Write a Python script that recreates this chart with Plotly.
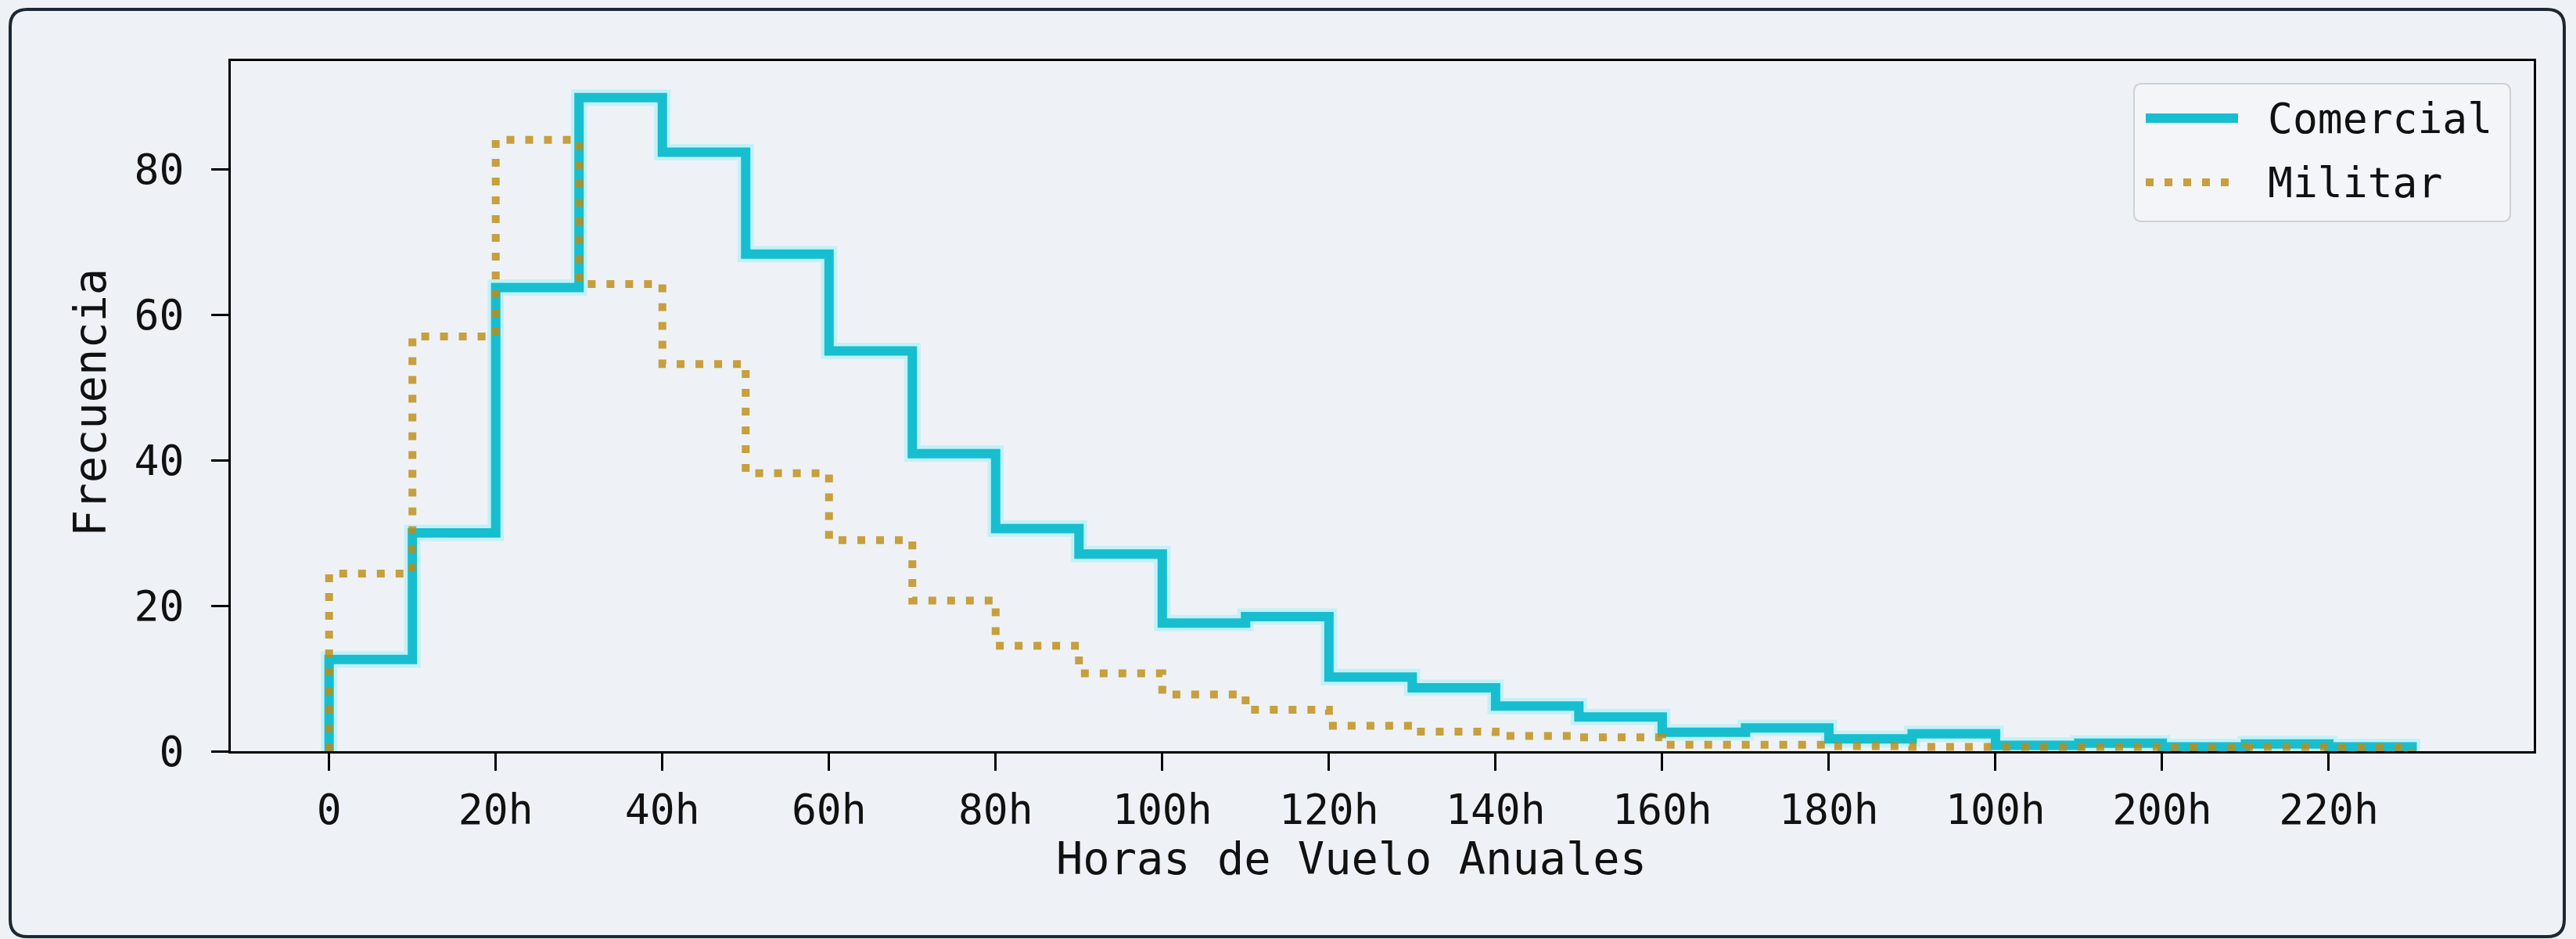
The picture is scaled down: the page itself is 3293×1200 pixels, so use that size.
import plotly.graph_objects as go

# ---------------- data ----------------
bin_edges = list(range(0, 260, 10))  # 0 .. 250
comercial = [12.6, 30.0, 63.7, 89.8, 82.3, 68.3, 55.0, 40.9, 30.6, 27.1,
             17.6, 18.5, 10.2, 8.7, 6.2, 4.7, 2.6, 3.2, 1.7, 2.4,
             0.8, 1.1, 0.6, 1.0, 0.6]
militar = [24.4, 57.0, 84.0, 64.2, 53.2, 38.2, 29.0, 20.7, 14.5, 10.7,
           7.8, 5.7, 3.5, 2.7, 2.1, 1.9, 0.9, 0.9, 0.7, 0.6,
           0.6, 0.6, 0.5, 0.6, 0.5]
tick_vals = list(range(0, 260, 20))
tick_text = ["0", "20h", "40h", "60h", "80h", "100h", "120h", "140h",
             "160h", "180h", "100h", "200h", "220h"]
y_ticks = [0, 20, 40, 60, 80]
series_names = ["Comercial", "Militar"]
x_title = "Horas de Vuelo Anuales"
y_title = "Frecuencia"

# ---------------- geometry ----------------
W, H = 3293, 1200
L, R, T, B = 295, 3239, 78, 960
PW, PH = R - L, B - T


def px(x):
    return (x - L) / PW


def py(y):
    return (B - y) / PH


def step_xy(edges, counts):
    xs = [edges[0]] + edges[:-1] + [edges[-1], edges[-1]]
    ys = [0] + list(counts) + [counts[-1], 0]
    return xs, ys


def rounded_rect(x0, y0, x1, y1, r):
    X0, X1 = px(x0), px(x1)
    Y0, Y1 = py(y1), py(y0)
    rx, ry = r / PW, r / PH
    return (f"M {X0+rx},{Y0} L {X1-rx},{Y0} Q {X1},{Y0} {X1},{Y0+ry} "
            f"L {X1},{Y1-ry} Q {X1},{Y1} {X1-rx},{Y1} L {X0+rx},{Y1} "
            f"Q {X0},{Y1} {X0},{Y1-ry} L {X0},{Y0+ry} Q {X0},{Y0} {X0+rx},{Y0} Z")


FONT = "DejaVu Sans Mono"
TEAL = "#17becf"
GOLD = "rgba(190,140,20,0.82)"
BG = "#eef2f6"
MIL_DASH = "10px,14px"

fig = go.Figure()

cx, cy = step_xy(bin_edges, comercial)
mx, my = step_xy(bin_edges, militar)

fig.add_trace(go.Scatter(x=cx, y=cy, mode="lines", line_shape="hv",
                         line=dict(color="rgba(160,240,250,0.55)", width=21),
                         hoverinfo="skip", showlegend=False))
fig.add_trace(go.Scatter(x=cx, y=cy, mode="lines", name=series_names[0], line_shape="hv",
                         line=dict(color=TEAL, width=12), showlegend=False))
fig.add_trace(go.Scatter(x=mx, y=my, mode="lines", name=series_names[1], line_shape="hv",
                         line=dict(color=GOLD, width=10, dash=MIL_DASH), showlegend=False))

axis_common = dict(showline=True, mirror=True, linecolor="black", linewidth=3,
                   ticks="outside", ticklen=22, tickwidth=3, tickcolor="black",
                   showgrid=False, zeroline=False, automargin=False,
                   tickfont=dict(family=FONT, size=53, color="#111111"))

fig.update_xaxes(range=[-11.8, 264.6], tickmode="array", tickvals=tick_vals, ticktext=tick_text,
                 ticklabelstandoff=4, **axis_common)
fig.update_yaxes(range=[0, 94.84], tickmode="array", tickvals=y_ticks,
                 ticklabelstandoff=24, **axis_common)

shapes = []
shapes.append(dict(type="path", xref="paper", yref="paper",
                   path=rounded_rect(13, 12, 3278, 1197, 22),
                   line=dict(color="#1c2833", width=4), fillcolor="rgba(0,0,0,0)", layer="below"))
shapes.append(dict(type="path", xref="paper", yref="paper",
                   path=rounded_rect(2728, 107, 3209, 283, 10),
                   line=dict(color="#cdd1d6", width=2), fillcolor="rgba(244,246,249,0.85)", layer="above"))
shapes.append(dict(type="line", xref="paper", yref="paper",
                   x0=px(2743), x1=px(2861), y0=py(151), y1=py(151),
                   line=dict(color=TEAL, width=12), layer="above"))
shapes.append(dict(type="line", xref="paper", yref="paper",
                   x0=px(2743), x1=px(2861), y0=py(233), y1=py(233),
                   line=dict(color=GOLD, width=10, dash=MIL_DASH), layer="above"))

annotations = [
    dict(text=series_names[0], xref="paper", yref="paper", x=px(2897), y=py(151),
         xanchor="left", yanchor="middle", showarrow=False,
         font=dict(family=FONT, size=53, color="#111111")),
    dict(text=series_names[1], xref="paper", yref="paper", x=px(2897), y=py(233),
         xanchor="left", yanchor="middle", showarrow=False,
         font=dict(family=FONT, size=53, color="#111111")),
    dict(text=x_title, xref="paper", yref="paper", x=px(1727), y=py(1097),
         xanchor="center", yanchor="middle", showarrow=False,
         font=dict(family=FONT, size=57, color="#111111")),
    dict(text=y_title, xref="paper", yref="paper", x=px(115), y=py(515),
         xanchor="center", yanchor="middle", showarrow=False, textangle=-90,
         font=dict(family=FONT, size=57, color="#111111")),
]

fig.update_layout(
    width=W, height=H,
    margin=dict(l=L, r=W - R, t=T, b=H - B, pad=0, autoexpand=False),
    paper_bgcolor=BG, plot_bgcolor=BG,
    shapes=shapes, annotations=annotations,
    showlegend=False,
)

fig.write_html("out.html", config={"displayModeBar": False},
               post_script="document.body.style.margin='0';document.body.style.background='#eef2f6';")
